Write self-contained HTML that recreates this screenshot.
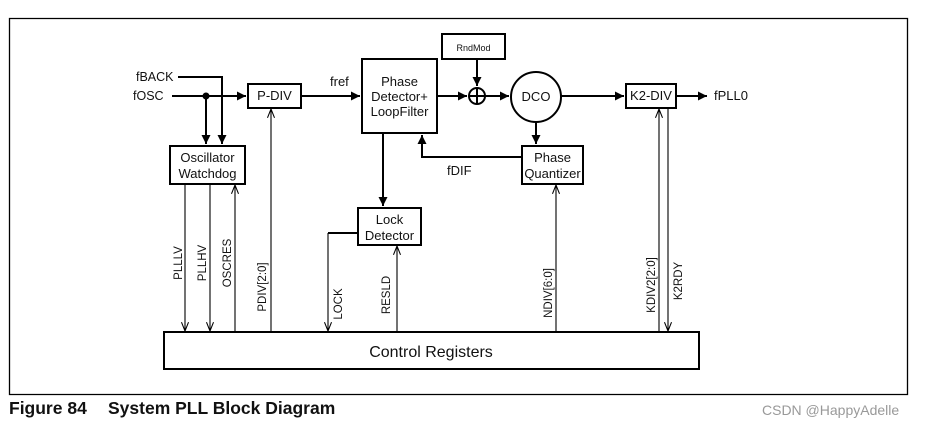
<!DOCTYPE html>
<html><head><meta charset="utf-8"><style>
html,body{margin:0;padding:0;background:#fff;}
svg{display:block;}
text{font-family:"Liberation Sans",sans-serif;fill:#111;}
</style></head><body>
<svg width="930" height="428" viewBox="0 0 930 428" xmlns="http://www.w3.org/2000/svg">
<defs>
<marker id="a" viewBox="0 0 10 10" refX="10" refY="5" markerWidth="4.5" markerHeight="4.5" orient="auto-start-reverse" markerUnits="strokeWidth"><path d="M0,0 L10,5 L0,10 z" fill="#000"/></marker>
<marker id="o" viewBox="0 0 10 10" refX="10" refY="5" markerWidth="8" markerHeight="8" orient="auto" markerUnits="strokeWidth"><path d="M0,1 L10,5 L0,9" fill="none" stroke="#000" stroke-width="1.2"/></marker>
</defs>
<path d="M9.5,18.5 H907.5 V394.5 H9.5 Z" fill="none" stroke="#000" stroke-width="1.3"/>
<g fill="none" stroke="#000" stroke-width="2">
<rect x="248" y="84" width="53" height="24"/>
<rect x="362" y="59" width="75" height="74"/>
<rect x="170" y="146" width="75" height="38"/>
<rect x="358" y="208" width="63" height="37"/>
<rect x="442" y="34" width="63" height="25"/>
<rect x="626" y="84" width="50" height="24"/>
<rect x="522" y="146" width="61" height="38"/>
<rect x="164" y="332" width="535" height="37"/>
<circle cx="536" cy="97" r="25"/>
<circle cx="477" cy="96" r="8"/>
<path d="M469,96 H485 M477,88 V104"/>
<path d="M178,77 H222 V144" marker-end="url(#a)"/>
<path d="M172,96 H246" marker-end="url(#a)"/>
<path d="M206,96 V144" marker-end="url(#a)"/>
<path d="M301,96 H360" marker-end="url(#a)"/>
<path d="M437,96 H467" marker-end="url(#a)"/>
<path d="M477,59 V86" marker-end="url(#a)"/>
<path d="M485,96 H509" marker-end="url(#a)"/>
<path d="M561,96 H624" marker-end="url(#a)"/>
<path d="M676,96 H707" marker-end="url(#a)"/>
<path d="M536,122 V144" marker-end="url(#a)"/>
<path d="M521,157 H422 V135" marker-end="url(#a)"/>
<path d="M383,133 V206" marker-end="url(#a)"/>
<path d="M358,233 H328"/>
</g>
<circle cx="206" cy="96" r="3.5" fill="#000"/>
<g fill="none" stroke="#000" stroke-width="1.1">
<path d="M185,184 V331" marker-end="url(#o)"/>
<path d="M210,184 V331" marker-end="url(#o)"/>
<path d="M235,332 V185" marker-end="url(#o)"/>
<path d="M271,332 V109" marker-end="url(#o)"/>
<path d="M328,233 V331" marker-end="url(#o)"/>
<path d="M397,332 V246" marker-end="url(#o)"/>
<path d="M556,332 V185" marker-end="url(#o)"/>
<path d="M659,332 V109" marker-end="url(#o)"/>
<path d="M668,108 V331" marker-end="url(#o)"/>
</g>
<g font-size="13">
<text x="136" y="81" font-size="12.5">fBACK</text>
<text x="133" y="100" font-size="12.5">fOSC</text>
<text x="274.5" y="100" text-anchor="middle">P-DIV</text>
<text x="330" y="86">fref</text>
<text x="399.5" y="86" text-anchor="middle">Phase</text>
<text x="399.5" y="101" text-anchor="middle">Detector+</text>
<text x="399.5" y="116" text-anchor="middle">LoopFilter</text>
<text x="207.5" y="162" text-anchor="middle">Oscillator</text>
<text x="207.5" y="178" text-anchor="middle">Watchdog</text>
<text x="389.5" y="224" text-anchor="middle">Lock</text>
<text x="389.5" y="240" text-anchor="middle">Detector</text>
<text x="473.5" y="51" text-anchor="middle" font-size="9">RndMod</text>
<text x="536" y="101" text-anchor="middle">DCO</text>
<text x="651" y="100" text-anchor="middle">K2-DIV</text>
<text x="714" y="100">fPLL0</text>
<text x="552.5" y="162" text-anchor="middle">Phase</text>
<text x="552.5" y="178" text-anchor="middle">Quantizer</text>
<text x="447" y="175">fDIF</text>
</g>
<g font-size="11.5" text-anchor="middle">
<text transform="translate(182,263) rotate(-90)">PLLLV</text>
<text transform="translate(206,263) rotate(-90)">PLLHV</text>
<text transform="translate(231,263) rotate(-90)">OSCRES</text>
<text transform="translate(266,287) rotate(-90)">PDIV[2:0]</text>
<text transform="translate(342,304) rotate(-90)">LOCK</text>
<text transform="translate(390,295) rotate(-90)">RESLD</text>
<text transform="translate(552,293) rotate(-90)">NDIV[6:0]</text>
<text transform="translate(655,285) rotate(-90)">KDIV2[2:0]</text>
<text transform="translate(682,281) rotate(-90)">K2RDY</text>
</g>
<text x="431" y="357" text-anchor="middle" font-size="16">Control Registers</text>
<text x="9" y="414" font-size="17.5" font-weight="bold">Figure 84</text>
<text x="108" y="414" font-size="17.5" font-weight="bold">System PLL Block Diagram</text>
<text x="762" y="415" font-size="14" style="fill:#999">CSDN @HappyAdelle</text>
</svg>
</body></html>
